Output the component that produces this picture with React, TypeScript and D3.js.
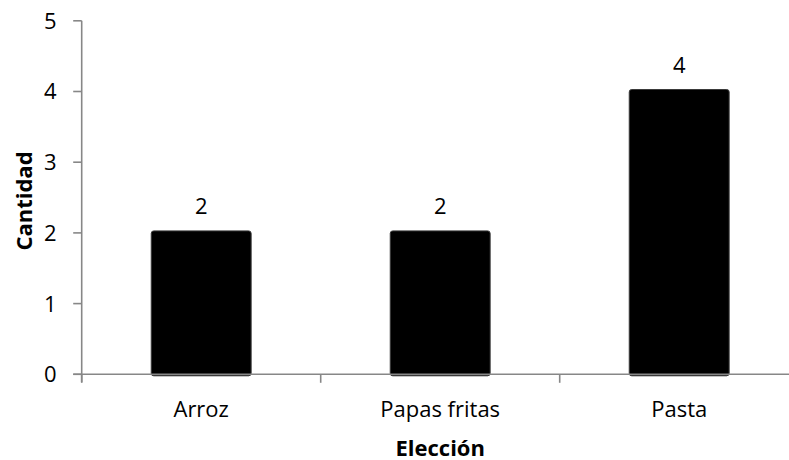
import React from "react";
import * as d3 from "d3";

const categories = ["Arroz", "Papas fritas", "Pasta"];
const values = [2, 2, 4];
const yTicks = [0, 1, 2, 3, 4, 5];
const xTitle = "Elección";
const yTitle = "Cantidad";

const W = 789;
const H = 460;
const FONT = "'Open Sans', 'Noto Sans', sans-serif";
const AXIS = "#878787";

export default function App() {
  const y = d3.scaleLinear().domain([0, 5]).range([374.3, 20.8]);
  const x = d3.scaleBand<string>().domain(categories).range([81.7, 798.7]).padding(0);
  const bw = x.bandwidth() * 0.418;
  const y0 = y(0);
  const x0 = 81.7;
  const xEnd = x.range()[1];
  const boundaries = [x0, ...categories.map((c) => (x(c) as number) + x.bandwidth())];

  return (
    <svg
      width={W}
      height={H}
      style={{ position: "absolute", left: 0, top: 0, background: "#fff" }}
      fontFamily={FONT}
    >
      <rect x={0} y={0} width={W} height={H} fill="#fff" />
      {/* bars */}
      {categories.map((c, i) => {
        const cx = (x(c) as number) + x.bandwidth() / 2;
        return (
          <g key={c}>
            <rect
              x={cx - bw / 2}
              y={y(values[i]) - 2}
              width={bw}
              height={y0 - y(values[i]) + 3.5}
              fill="#000"
              stroke="#3a3a3a"
              strokeWidth={1}
              rx={2.5}
            />
            <text
              x={cx}
              y={y(values[i]) - 19}
              textAnchor="middle"
              fontSize={22}
              fill="#000"
            >
              {values[i]}
            </text>
          </g>
        );
      })}
      {/* y axis */}
      <line x1={x0} x2={x0} y1={y(5)} y2={y0 + 8} stroke={AXIS} strokeWidth={1.6} />
      {yTicks.map((t) => (
        <g key={t}>
          <line x1={x0 - 8.5} x2={x0} y1={y(t)} y2={y(t)} stroke={AXIS} strokeWidth={1.6} />
          <text
            x={56.5}
            y={y(t)}
            dy="0.36em"
            textAnchor="end"
            fontSize={22}
            fill="#000"
          >
            {t}
          </text>
        </g>
      ))}
      {/* x axis */}
      <line x1={x0 - 8.5} x2={xEnd} y1={y0} y2={y0} stroke={AXIS} strokeWidth={1.6} />
      {boundaries.map((b, i) => (
        <line key={i} x1={b} x2={b} y1={y0} y2={y0 + 8.5} stroke={AXIS} strokeWidth={1.6} />
      ))}
      {categories.map((c) => (
        <text
          key={c}
          x={(x(c) as number) + x.bandwidth() / 2}
          y={417}
          textAnchor="middle"
          fontSize={22}
          fill="#000"
        >
          {c}
        </text>
      ))}
      <text
        x={(x0 + xEnd) / 2}
        y={455.5}
        textAnchor="middle"
        fontSize={22}
        fontWeight="bold"
        fill="#000"
      >
        {xTitle}
      </text>
      <text
        transform={`translate(31.5,201) rotate(-90)`}
        textAnchor="middle"
        fontSize={22}
        fontWeight="bold"
        fill="#000"
      >
        {yTitle}
      </text>
    </svg>
  );
}
